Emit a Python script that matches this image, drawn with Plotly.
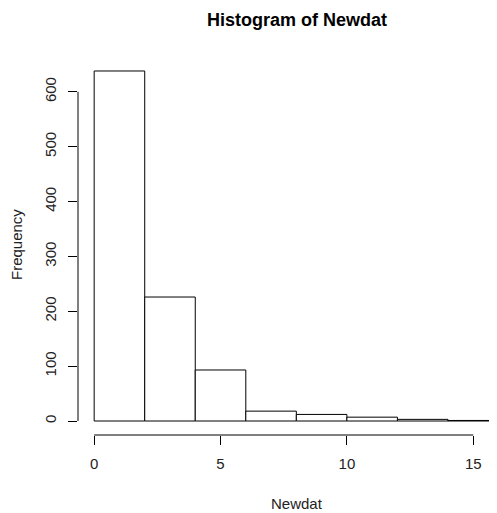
import plotly.graph_objects as go

bin_edges = [0, 2, 4, 6, 8, 10, 12, 14, 16]
counts = [638, 226, 93, 18, 12, 7, 3, 1]
x_ticks = [0, 5, 10, 15]
y_ticks = [0, 100, 200, 300, 400, 500, 600]

mids = [(a + b) / 2 for a, b in zip(bin_edges[:-1], bin_edges[1:])]
widths = [b - a for a, b in zip(bin_edges[:-1], bin_edges[1:])]

FONT = "Liberation Sans, Arial, sans-serif"

fig = go.Figure(go.Bar(
    x=mids, y=counts, width=widths,
    marker=dict(color="white", line=dict(color="black", width=1)),
    hoverinfo="skip",
))

fig.update_layout(
    width=489, height=505,
    margin=dict(l=70, r=0, t=49, b=78),
    plot_bgcolor="white", paper_bgcolor="white",
    showlegend=False,
    font=dict(family=FONT, size=15, color="black"),
    xaxis=dict(range=[-0.64, 15.94], tickvals=x_ticks, ticktext=[str(v) for v in x_ticks],
               showgrid=False, zeroline=False, showline=False,
               ticks="outside", ticklen=9, tickcolor="black", tickwidth=1,
               ticklabelstandoff=6,
               tickfont=dict(family=FONT, size=15, color="#222")),
    yaxis=dict(range=[-25.5, 663.5], tickvals=y_ticks, ticktext=[str(v) for v in y_ticks],
               showgrid=False, zeroline=False, showline=False,
               ticks="outside", ticklen=9, tickcolor="black", tickwidth=1,
               tickangle=-90, ticklabelstandoff=6,
               tickfont=dict(family=FONT, size=15, color="#222")),
    shapes=[
        dict(type="line", xref="x", yref="paper", x0=x_ticks[0], x1=x_ticks[-1], y0=0, y1=0,
             line=dict(color="black", width=1)),
        dict(type="line", xref="paper", yref="y", x0=0, x1=0, y0=y_ticks[0], y1=y_ticks[-1],
             line=dict(color="black", width=1)),
    ],
    annotations=[
        dict(text="<b>Histogram of Newdat</b>", xref="paper", yref="paper",
             x=0.5215, y=(435 - 20) / 378, xanchor="center", yanchor="middle",
             showarrow=False, font=dict(family=FONT, size=18, color="black")),
        dict(text="Newdat", xref="paper", yref="paper",
             x=0.5215, y=-(503 - 435) / 378, xanchor="center", yanchor="middle",
             showarrow=False, font=dict(family=FONT, size=15, color="#222")),
        dict(text="Frequency", xref="paper", yref="paper",
             x=-(78 - 16) / 419, y=(435 - 245) / 378, xanchor="center", yanchor="middle",
             textangle=-90, showarrow=False, font=dict(family=FONT, size=15, color="#222")),
    ],
)

fig.write_html("out.html")
